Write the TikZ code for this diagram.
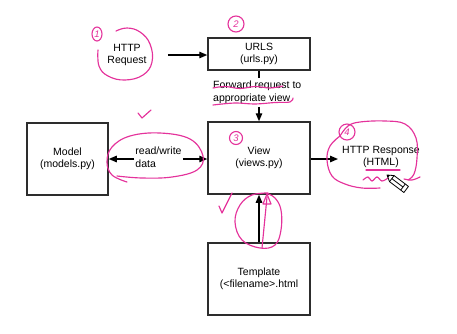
\documentclass[tikz,border=0pt]{standalone}
\usepackage{fontspec}
\setmainfont{Liberation Sans}
\newfontfamily\handfont{Liberation Sans}
\usetikzlibrary{arrows.meta,shapes.geometric}
\definecolor{ink}{RGB}{45,45,45}
\definecolor{marker}{RGB}{228,50,155}

\begin{document}
\begin{tikzpicture}[x=1pt,y=-1pt,
  every node/.style={font=\fontsize{10.5}{12.5}\selectfont,text=black},
  box/.style={draw=ink,line width=1.5pt,minimum width=102pt,minimum height=72pt,align=center,inner sep=2pt},
  txt/.style={align=center,inner sep=2pt},
  arr/.style={draw=black,line width=1.3pt,-{Triangle[length=8pt,width=6.5pt]}},
  link/.style={draw=black,line width=1.3pt},
  pen/.style={draw=marker,line width=1.15pt,line cap=round,line join=round},
  num/.style={draw=marker,line width=1.1pt,circle,inner sep=0.5pt,minimum size=14pt,
              text=marker,font=\handfont\fontsize{9.5}{9.5}\selectfont\itshape}]

\useasboundingbox (0,0) rectangle (457,333);

% diagram boxes
\node[box,minimum width=81pt] (model) at (67.5,159) {Model\\(models.py)};
\node[box,minimum height=32pt] (urls) at (259,54) {URLS\\(urls.py)};
\node[box] (view) at (259,158) {View\\(views.py)};
\node[box] (tmpl) at (259,279) {Template\\(<filename>.html};

% free labels
\node[txt] (req) at (127,55) {HTTP\\Request};
\node[txt,inner xsep=4pt] (resp) at (381,157) {HTTP Response\\(HTML)};
\node[txt,align=left,anchor=west,inner sep=3pt] (fwd) at (210,92.5) {Forward request to\\appropriate view};
\node[txt,align=left,inner xsep=1pt] (rw) at (158.5,157) {read/write\\data};

% connectors
\draw[arr,shorten <=19pt] (req.east) -- (req.east -| urls.west);
\draw[link] (urls.south) -- (urls.south |- fwd.north);
\draw[arr] (view.north |- fwd.south) -- (view.north);
\draw[arr] (rw.west |- 0,159) -- (model.east |- 0,159);
\draw[arr] (rw.east |- 0,159) -- (view.west |- 0,159);
\draw[arr] (view.east |- 0,159) -- (resp.west |- 0,159);
\draw[arr] (tmpl.north) -- (view.south);

% --- marker annotations ---
\node[num,ellipse,minimum width=10pt,minimum height=14pt] (n1) at (97,34) {1};
\node[num,minimum size=16pt] (n2) at (236,24) {2};
\node[num,minimum size=13pt] (n3) at (236,138) {3};
\node[num,minimum size=16pt] (n4) at (347,132) {4};

% loop round the request label
\draw[pen] plot[smooth,tension=0.7] coordinates
  {(98,50) (99,66) (108,76) (125,80) (143,75) (152,62) (150,44) (140,32) (127,28) (116,31)};

% underlines of the forwarding note
\draw[pen] plot[smooth,tension=0.6] coordinates
  {(213,88) (225,86.5) (240,88.5) (255,86.5) (270,88) (283,86)};
\draw[pen] plot[smooth,tension=0.6] coordinates
  {(213,105) (235,103) (255,104) (275,102.5) (290,102) (293,98)};

% tick above the read/write link
\draw[pen] (138,113) -- (142,118) -- (151,110);

% loop round read/write
\draw[pen] plot[smooth,tension=0.65] coordinates
  {(127,182) (112,175) (107,162) (112,147) (130,136) (160,133) (190,139) (203,156) (197,170) (172,177) (142,178) (117,176)};

% loop round the response, with squiggle
\draw[pen] plot[smooth,tension=0.65] coordinates
  {(340,136) (348,126) (360,122) (385,121) (405,124) (416,138) (417,158) (414,174) (408,180)};
\draw[pen] plot[smooth,tension=0.65] coordinates
  {(340,136) (330,146) (327,160) (332,176) (345,184) (362,188) (380,188)};
\draw[pen] (366,170) -- (400,170);
\draw[pen] plot[smooth,tension=0.6] coordinates
  {(363,180) (368,177) (372,181) (377,177) (382,181) (388,178)};
\draw[pen] plot[smooth,tension=0.6] coordinates {(404,179) (412,180) (420,177)};

% pencil cursor
\begin{scope}[shift={(387,175)},rotate=-37]
  \draw[black,line width=0.8pt,fill=white,line join=round]
    (0,0) -- (6,-3.8) -- (24,-3.8) -- (24,3.8) -- (6,3.8) -- cycle;
  \fill[black] (0,0) -- (2.4,-1.5) -- (2.4,1.5) -- cycle;
  \draw[black,line width=0.8pt] (6,-3.8) -- (6,3.8) (20,-3.8) -- (20,3.8) (6,0) -- (20,0);
\end{scope}

% loop round the template link, with second arrow
\draw[pen] plot[smooth,tension=0.65] coordinates
  {(268,193) (252,195) (240,205) (235,222) (242,240) (260,248) (275,245) (281,230) (281,210) (275,198) (266,193)};
\draw[pen] (262,248) -- (267,197);
\draw[pen] (263,204) -- (267,194) -- (271,204) -- cycle;
\draw[pen] (219,206) -- (222,213) -- (232,193);

\end{tikzpicture}
\end{document}
